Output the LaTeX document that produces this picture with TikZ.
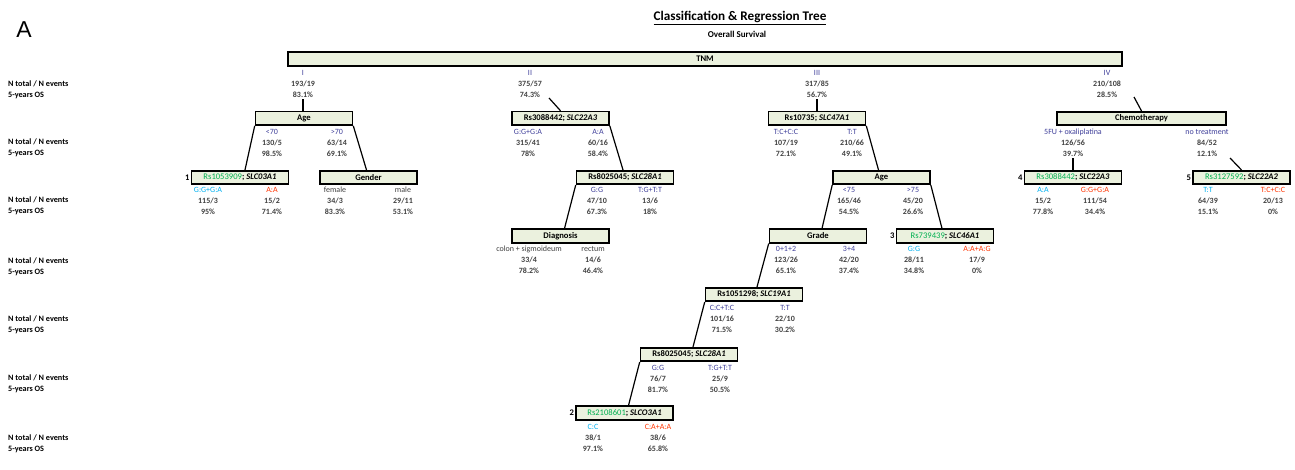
\documentclass[tikz,border=0pt]{standalone}
\usepackage{fontspec}
\setmainfont{Carlito}
\newfontfamily\afont{Liberation Sans}
\definecolor{boxfill}{HTML}{EBF1DE}
\definecolor{catcol}{HTML}{40409A}
\definecolor{gblue}{HTML}{00B0F0}
\definecolor{gred}{HTML}{FF3300}
\definecolor{ggreen}{HTML}{00B050}
\definecolor{numcol}{HTML}{404040}
\newcommand{\ctx}[1]{\textcolor{catcol}{\mdseries #1}}
\newcommand{\BR}[5]{\node[br] (#1) at (#2) {#3\\#4\\#5};}
\begin{document}
\begin{tikzpicture}[x=1pt,y=-1pt,
 sbox/.style={draw=black, line width=1.6pt, fill=boxfill, minimum width=97pt, minimum height=13.5pt, inner sep=0pt, font=\fontsize{8.6}{9}\selectfont\bfseries},
 br/.style={align=center, inner sep=0pt, font=\fontsize{8}{10.8}\selectfont\bfseries, text=numcol},
 rowlab/.style={anchor=west, align=left, inner sep=0pt, font=\fontsize{8.2}{10.8}\selectfont\bfseries},
 conn/.style={line width=1.2pt},
 leafnum/.style={anchor=east, inner sep=1pt, font=\fontsize{8.6}{9}\selectfont\bfseries}]
\useasboundingbox (0,0) rectangle (1295,470);

% titles
\node[font=\afont\fontsize{23}{25}\selectfont] (A) at (24,30) {A};
\node[font=\fontsize{13.2}{15}\selectfont\bfseries] (title) at (740,18) {\underline{Classification \& Regression Tree}};
\node[font=\fontsize{9}{11}\selectfont\bfseries] (sub) at (737,34) {Overall Survival};

% row labels
\foreach \y [count=\i] in {89.5,148,206,266.5,324.5,384,443.5}
  \node[rowlab] (row\i) at (8,\y) {N total / N events\\5-years OS};

% boxes
\node[sbox, minimum width=834pt, minimum height=14pt] (tnm) at (705,59) {TNM};
\node[sbox] (age) at (304,118.3) {Age};
\node[sbox] (rs1) at (560.5,118.3) {Rs3088442; \textit{SLC22A3}};
\node[sbox] (rs10735) at (817,118.3) {Rs10735; \textit{SLC47A1}};
\node[sbox, minimum width=169pt] (chemo) at (1141.5,118.5) {Chemotherapy};
\node[sbox] (leaf1) at (240,177.5) {\textcolor{ggreen}{\mdseries Rs1053909}; \textit{SLC03A1}};
\node[sbox] (gender) at (368.5,177.5) {Gender};
\node[sbox] (rsa) at (625,177.5) {Rs8025045; \textit{SLC28A1}};
\node[sbox] (age2) at (881.5,177.5) {Age};
\node[sbox] (leaf4) at (1073,177.5) {\textcolor{ggreen}{\mdseries Rs3088442}; \textit{SLC22A3}};
\node[sbox] (leaf5) at (1241.5,177.5) {\textcolor{ggreen}{\mdseries Rs3127592}; \textit{SLC22A2}};
\node[sbox] (diag) at (560.5,236) {Diagnosis};
\node[sbox] (grade) at (818,236) {Grade};
\node[sbox] (leaf3) at (945,236) {\textcolor{ggreen}{\mdseries Rs739439}; \textit{SLC46A1}};
\node[sbox] (rs19) at (754,294.5) {Rs1051298; \textit{SLC19A1}};
\node[sbox] (rsb) at (689,354.5) {Rs8025045; \textit{SLC28A1}};
\node[sbox] (leaf2) at (624.5,413) {\textcolor{ggreen}{\mdseries Rs2108601}; \textit{SLCO3A1}};

% leaf numbers
\node[leafnum] (n1) at (leaf1.west) {1};
\node[leafnum] (n2) at (leaf2.west) {2};
\node[leafnum] (n3) at (leaf3.west) {3};
\node[leafnum] (n4) at (leaf4.west) {4};
\node[leafnum] (n5) at (leaf5.west) {5};

% branch texts
\BR{bI}{303,84}{\ctx{I}}{193/19}{83.1\%}
\BR{bII}{530,84}{\ctx{II}}{375/57}{74.3\%}
\BR{bIII}{817,84}{\ctx{III}}{317/85}{56.7\%}
\BR{bIV}{1107,84}{\ctx{IV}}{210/108}{28.5\%}

\BR{a1}{272,143}{\ctx{<70}}{130/5}{98.5\%}
\BR{a2}{337,143}{\ctx{>70}}{63/14}{69.1\%}
\BR{r11}{528,143}{\ctx{G:G+G:A}}{315/41}{78\%}
\BR{r12}{598,143}{\ctx{A:A}}{60/16}{58.4\%}
\BR{r21}{786,143}{\ctx{T:C+C:C}}{107/19}{72.1\%}
\BR{r22}{852,143}{\ctx{T:T}}{210/66}{49.1\%}
\BR{ch1}{1073,143}{\ctx{5FU + oxaliplatina}}{126/56}{39.7\%}
\BR{ch2}{1207,143}{\ctx{no treatment}}{84/52}{12.1\%}

\BR{l11}{208,201}{\textcolor{gblue}{\mdseries G:G+G:A}}{115/3}{95\%}
\BR{l12}{272,201}{\textcolor{gred}{\mdseries A:A}}{15/2}{71.4\%}
\BR{g1}{335,201}{{\mdseries female}}{34/3}{83.3\%}
\BR{g2}{403,201}{{\mdseries male}}{29/11}{53.1\%}
\BR{ra1}{597,201}{\ctx{G:G}}{47/10}{67.3\%}
\BR{ra2}{650,201}{\ctx{T:G+T:T}}{13/6}{18\%}
\BR{b21}{849,201}{\ctx{<75}}{165/46}{54.5\%}
\BR{b22}{913,201}{\ctx{>75}}{45/20}{26.6\%}
\BR{l41}{1043,201}{\textcolor{gblue}{\mdseries A:A}}{15/2}{77.8\%}
\BR{l42}{1095,201}{\textcolor{gred}{\mdseries G:G+G:A}}{111/54}{34.4\%}
\BR{l51}{1208,201}{\textcolor{gblue}{\mdseries T:T}}{64/39}{15.1\%}
\BR{l52}{1273,201}{\textcolor{gred}{\mdseries T:C+C:C}}{20/13}{0\%}

\BR{d1}{529,260}{{\mdseries colon + sigmoideum}}{33/4}{78.2\%}
\BR{d2}{593,260}{{\mdseries rectum}}{14/6}{46.4\%}
\BR{gr1}{786,260}{\ctx{0+1+2}}{123/26}{65.1\%}
\BR{gr2}{849,260}{\ctx{3+4}}{42/20}{37.4\%}
\BR{l31}{914,260}{\textcolor{gblue}{\mdseries G:G}}{28/11}{34.8\%}
\BR{l32}{977,260}{\textcolor{gred}{\mdseries A:A+A:G}}{17/9}{0\%}

\BR{s1}{722,319}{\ctx{C:C+T:C}}{101/16}{71.5\%}
\BR{s2}{785,319}{\ctx{T:T}}{22/10}{30.2\%}

\BR{rb1}{658,379}{\ctx{G:G}}{76/7}{81.7\%}
\BR{rb2}{720,379}{\ctx{T:G+T:T}}{25/9}{50.5\%}

\BR{l21}{593,438}{\textcolor{gblue}{\mdseries C:C}}{38/1}{97.1\%}
\BR{l22}{658,438}{\textcolor{gred}{\mdseries C:A+A:A}}{38/6}{65.8\%}

% connectors
\coordinate (c2) at (549,98);
\coordinate (c4) at (1134,97);
\coordinate (c5) at (1230,158);
\draw[conn] ([yshift=-1.5pt]bI.south) -- (bI.south |- age.north);
\draw[conn] (c2) -- (rs1.north);
\draw[conn] ([yshift=-1.5pt]bIII.south) -- (bIII.south |- rs10735.north);
\draw[conn] (c4) -- (chemo.north);
\draw[conn] (age.south west) -- ([xshift=5pt]leaf1.north);
\draw[conn] (age.south east) -- ([xshift=-2pt]gender.north);
\draw[conn] (rs1.south east) -- ([xshift=-2pt]rsa.north);
\draw[conn] (rs10735.south east) -- ([xshift=-3pt]age2.north);
\draw[conn] ([yshift=-1.5pt]ch1.south) -- (ch1.south |- leaf4.north);
\draw[conn] (c5) -- (leaf5.north);
\draw[conn] (rsa.south west) -- ([xshift=4pt]diag.north);
\draw[conn] (age2.south west) -- ([xshift=4pt]grade.north);
\draw[conn] (age2.south east) -- ([xshift=-3pt]leaf3.north);
\draw[conn] (grade.south west) -- ([xshift=3pt]rs19.north);
\draw[conn] (rs19.south west) -- ([xshift=4pt]rsb.north);
\draw[conn] (rsb.south west) -- ([xshift=4pt]leaf2.north);
\end{tikzpicture}
\end{document}
